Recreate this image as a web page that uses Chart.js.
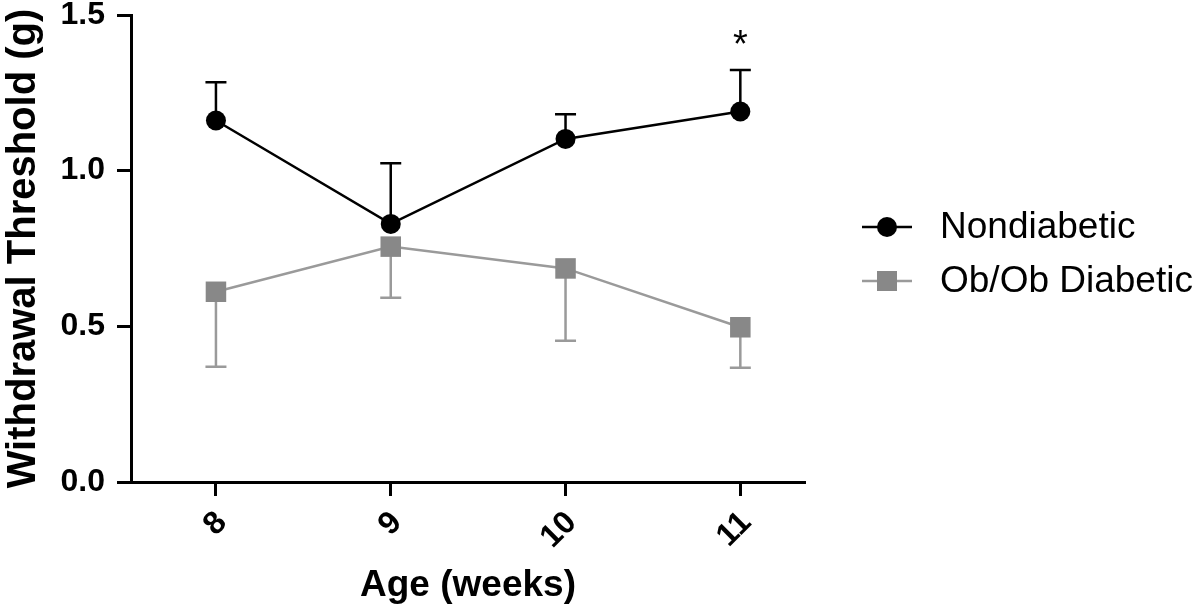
<!DOCTYPE html>
<html>
<head>
<meta charset="utf-8">
<script src="https://cdn.jsdelivr.net/npm/chart.js@4/dist/chart.umd.min.js"></script>
<style>
html,body{margin:0;padding:0;background:#fff;}
#wrap{width:1200px;height:610px;position:relative;}
</style>
</head>
<body>
<div id="wrap"><canvas id="c" width="1200" height="610"></canvas></div>
<script>
// ---- data ----
const ages = [8, 9, 10, 11];
const nondiabeticMean = [1.161, 0.829, 1.102, 1.190];
const nondiabeticErr  = [0.123, 0.195, 0.079, 0.133];
const obobMean = [0.611, 0.756, 0.686, 0.497];
const obobErr  = [0.241, 0.164, 0.232, 0.130];
const seriesNames = ['Nondiabetic', 'Ob/Ob Diabetic'];
const sigMarks = ['', '', '', '*'];
const yTicks = [0, 0.5, 1.0, 1.5];

const FONT = "'Liberation Sans', Arial, sans-serif";

const errorBarPlugin = {
  id: 'errorBars',
  beforeDatasetsDraw(chart) {
    const ctx = chart.ctx;
    const ys = chart.scales.y;
    chart.data.datasets.forEach((ds, i) => {
      const meta = chart.getDatasetMeta(i);
      ctx.save();
      ctx.strokeStyle = ds.errColor;
      ctx.lineWidth = 2.5;
      meta.data.forEach((pt, j) => {
        const v = ds.data[j].y + ds.errDir * ds.err[j];
        const yE = ys.getPixelForValue(v);
        ctx.beginPath();
        ctx.moveTo(pt.x, pt.y);
        ctx.lineTo(pt.x, yE);
        ctx.moveTo(pt.x - 10.5, yE);
        ctx.lineTo(pt.x + 10.5, yE);
        ctx.stroke();
      });
      ctx.restore();
    });
  },
  afterDraw(chart) {
    const ctx = chart.ctx;
    const xs = chart.scales.x, ys = chart.scales.y;
    // significance marks
    ctx.save();
    ctx.fillStyle = '#000';
    ctx.font = "38px " + FONT;
    ctx.textAlign = 'center';
    ctx.textBaseline = 'alphabetic';
    sigMarks.forEach((m, j) => {
      if (!m) return;
      ctx.fillText(m, xs.getPixelForValue(ages[j]), ys.getPixelForValue(1.5) + 42);
    });
    ctx.restore();
    // legend
    const area = chart.chartArea;
    const x0 = area.right + 57, x1 = area.right + 107, xm = (x0 + x1) / 2;
    const rowY = [227, 281];
    chart.data.datasets.forEach((ds, i) => {
      const y = rowY[i];
      ctx.save();
      ctx.strokeStyle = ds.borderColor;
      ctx.lineWidth = ds.borderWidth;
      ctx.beginPath();
      ctx.moveTo(x0, y); ctx.lineTo(x1, y); ctx.stroke();
      ctx.fillStyle = ds.pointBackgroundColor;
      if (ds.pointStyle === 'rect') {
        ctx.fillRect(xm - 10, y - 10, 20, 20);
      } else {
        ctx.beginPath(); ctx.arc(xm, y, 10, 0, Math.PI * 2); ctx.fill();
      }
      ctx.fillStyle = '#000';
      ctx.font = "37px " + FONT;
      ctx.textAlign = 'left';
      ctx.textBaseline = 'middle';
      ctx.fillText(seriesNames[i], area.right + 135, y + 1);
      ctx.restore();
    });
  }
};

new Chart(document.getElementById('c'), {
  type: 'line',
  data: {
    datasets: [
      {
        label: seriesNames[0],
        data: ages.map((a, j) => ({x: a, y: nondiabeticMean[j]})),
        err: nondiabeticErr, errDir: 1, errColor: '#000',
        borderColor: '#000', borderWidth: 2.5,
        pointStyle: 'circle', pointRadius: 10, pointBorderWidth: 0,
        pointBackgroundColor: '#000', pointBorderColor: '#000',
        tension: 0, fill: false
      },
      {
        label: seriesNames[1],
        data: ages.map((a, j) => ({x: a, y: obobMean[j]})),
        err: obobErr, errDir: -1, errColor: '#9a9a9a',
        borderColor: '#9a9a9a', borderWidth: 2.5,
        pointStyle: 'rect', pointRadius: 14.5, pointBorderWidth: 0,
        pointBackgroundColor: '#888888', pointBorderColor: '#888888',
        tension: 0, fill: false
      }
    ]
  },
  options: {
    responsive: false,
    animation: false,
    devicePixelRatio: 1,
    layout: { padding: { top: 15, right: 395, left: 0, bottom: 0 } },
    plugins: { legend: { display: false }, tooltip: { enabled: false } },
    scales: {
      x: {
        type: 'linear',
        min: 7.514, max: 11.37,
        afterBuildTicks: (s) => { s.ticks = ages.map(v => ({value: v})); },
        afterFit: (s) => { s.height = 128; s.paddingLeft = 0; s.paddingRight = 0; },
        border: { display: true, color: '#000', width: 3 },
        grid: { display: true, drawOnChartArea: false, tickLength: 14, tickWidth: 3, tickColor: '#000' },
        ticks: {
          color: '#000', font: { family: FONT, size: 32, weight: 'bold' },
          minRotation: 45, maxRotation: 45, padding: 8, labelOffset: 6,
          callback: (v) => String(v)
        },
        title: { display: true, text: 'Age (weeks)', color: '#000',
                 font: { family: FONT, size: 37, weight: 'bold' }, padding: { top: 0, bottom: 2 } }
      },
      y: {
        min: 0, max: 1.5,
        afterBuildTicks: (s) => { s.ticks = yTicks.map(v => ({value: v})); },
        afterFit: (s) => { s.width = 131; s.paddingTop = 0; s.paddingBottom = 0; },
        border: { display: true, color: '#000', width: 3 },
        grid: { display: true, drawOnChartArea: false, tickLength: 14, tickWidth: 3, tickColor: '#000' },
        ticks: {
          color: '#000', font: { family: FONT, size: 32, weight: 'bold' }, padding: 12,
          callback: (v) => Number(v).toFixed(1)
        },
        title: { display: true, text: 'Withdrawal Threshold (g)', color: '#000',
                 font: { family: FONT, size: 40, weight: 'bold' }, padding: 0 }
      }
    }
  },
  plugins: [errorBarPlugin]
});
</script>
</body>
</html>
